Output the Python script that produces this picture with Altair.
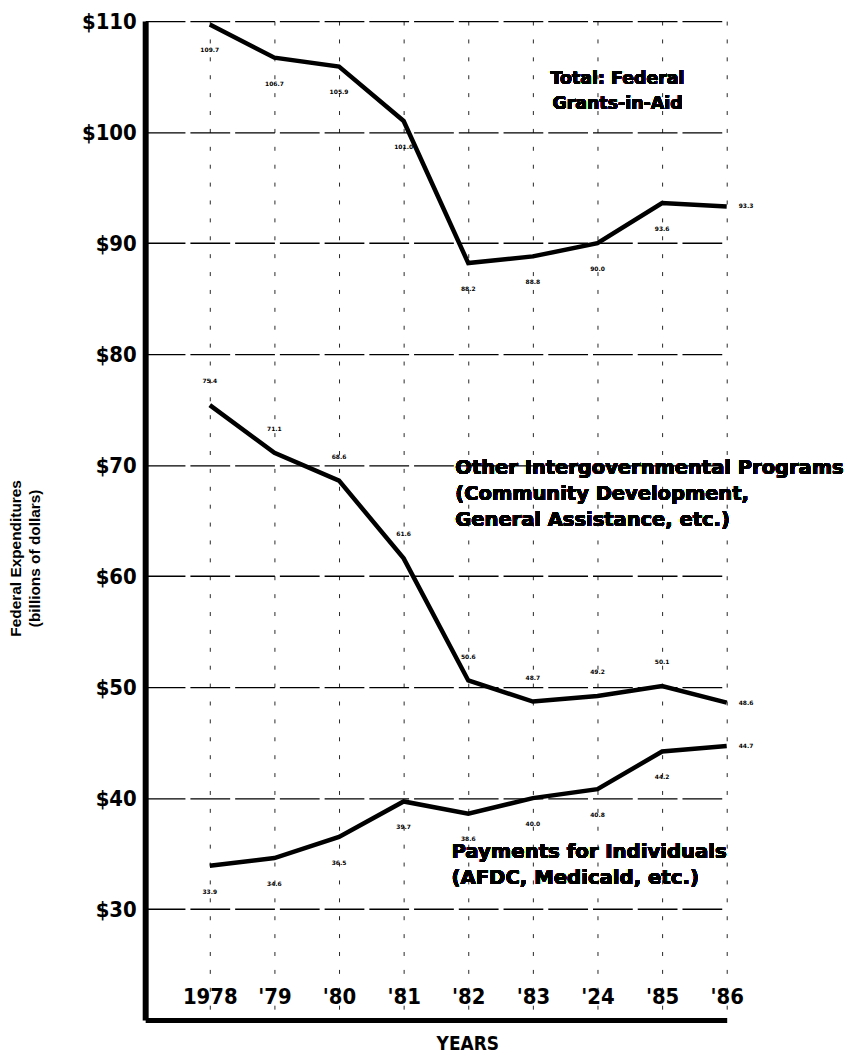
import json
import altair as alt
import pandas as pd

years = [1978, 1979, 1980, 1981, 1982, 1983, 1984, 1985, 1986]
year_labels = ["1978", "'79", "'80", "'81", "'82", "'83", "'24", "'85", "'86"]
total = [109.7, 106.7, 105.9, 101.0, 88.2, 88.8, 90.0, 93.6, 93.3]
other = [75.4, 71.1, 68.6, 61.6, 50.6, 48.7, 49.2, 50.1, 48.6]
payments = [33.9, 34.6, 36.5, 39.7, 38.6, 40.0, 40.8, 44.2, 44.7]
y_ticks = [30, 40, 50, 60, 70, 80, 90, 100, 110]

series_names = ["Total", "Other", "Payments"]
rows = []
for name, vals in zip(series_names, [total, other, payments]):
    for yr, v in zip(years, vals):
        rows.append({"series": name, "year": yr, "value": v})
df = pd.DataFrame(rows)

NARROW = "Liberation Sans Narrow, DejaVu Sans Condensed, DejaVu Sans, sans-serif"
WIDE = "DejaVu Sans, Liberation Sans, Arial, sans-serif"
ARIAL = "Liberation Sans, Arial, Helvetica, sans-serif"

label_expr = json.dumps(year_labels) + "[datum.value - 1978]"

x_enc = alt.X(
    "year:Q",
    scale=alt.Scale(domain=[1977, 1986], nice=False, zero=False),
    axis=alt.Axis(
        values=years,
        labelExpr=label_expr,
        ticks=False,
        labelPadding=-34,
        labelFont=NARROW,
        labelFontSize=22,
        labelFontWeight="bold",
        labelColor="black",
        labelFlush=False,
        labelOverlap=False,
        domainColor="black",
        domainWidth=5,
        grid=True,
        gridColor="black",
        gridWidth=1,
        gridDash=[4, 14],
        gridOpacity=0.85,
        title="YEARS",
        titleFont=NARROW,
        titleFontSize=19,
        titleFontWeight="bold",
        titleColor="black",
        titleX=324,
        titleY=15,
        titleAnchor="middle",
        titleBaseline="top",
    ),
)

y_enc = alt.Y(
    "value:Q",
    scale=alt.Scale(domain=[20, 110], nice=False, zero=False),
    axis=alt.Axis(
        values=y_ticks,
        labelExpr="'$' + datum.value",
        ticks=False,
        labelPadding=9,
        labelFont=NARROW,
        labelFontSize=22,
        labelFontWeight="bold",
        labelColor="black",
        labelFlush=False,
        labelOverlap=False,
        domainColor="black",
        domainWidth=6,
        grid=True,
        gridColor="black",
        gridWidth=1.3,
        gridDash=[40, 5],
        title=["Federal Expenditures", "(billions of dollars)"],
        titleFont=ARIAL,
        titleFontSize=15.5,
        titleFontWeight="bold",
        titleColor="black",
        titleLineHeight=19,
        titleAngle=270,
        titleX=-137,
        titleY=540,
        titleAnchor="middle",
        titleBaseline="top",
    ),
)

base = alt.Chart(df)

lines = base.mark_line(color="black", strokeWidth=4.5).encode(
    x=x_enc, y=y_enc, detail="series:N"
)

def value_labels(series, dy, last_dx):
    body = base.transform_filter(
        (alt.datum.series == series) & (alt.datum.year < 1986)
    ).mark_text(fontSize=6, fontWeight="bold", color="black", dy=dy, font=WIDE).encode(
        x="year:Q", y="value:Q", text=alt.Text("value:Q", format=".1f")
    )
    last = base.transform_filter(
        (alt.datum.series == series) & (alt.datum.year == 1986)
    ).mark_text(fontSize=6, fontWeight="bold", color="black", dx=last_dx, align="left", font=WIDE).encode(
        x="year:Q", y="value:Q", text=alt.Text("value:Q", format=".1f")
    )
    return [body, last]

labels = value_labels("Total", 26, 12) + value_labels("Other", -24, 12) + value_labels("Payments", 26, 12)

ann_total = alt.Chart(df).mark_text(
    text=["Total: Federal", "Grants-in-Aid"],
    font=WIDE, fontSize=17.5, fontWeight="bold", color="black",
    align="center", baseline="top", lineHeight=25,
).encode(x=alt.datum(1984.31), y=alt.datum(105.6))

ann_other = alt.Chart(df).mark_text(
    text=["Other Intergovernmental Programs", "(Community Development,", "General Assistance, etc.)"],
    font=WIDE, fontSize=19.6, fontWeight="bold", color="black",
    align="left", baseline="top", lineHeight=26,
).encode(x=alt.datum(1981.8), y=alt.datum(70.5))

ann_pay = alt.Chart(df).mark_text(
    text=["Payments for Individuals", "(AFDC, Medicald, etc.)"],
    font=WIDE, fontSize=19.8, fontWeight="bold", color="black",
    align="left", baseline="top", lineHeight=26,
).encode(x=alt.datum(1981.74), y=alt.datum(36.0))

chart = alt.layer(lines, *labels, ann_total, ann_other, ann_pay).properties(
    width=585,
    height=1005,
    autosize=alt.AutoSizeParams(type="none"),
    padding={"left": 138, "top": 10, "right": 120, "bottom": 40},
    background="white",
).configure_view(stroke=None)

chart.save("out.html", embed_options={"renderer": "svg", "actions": False})
